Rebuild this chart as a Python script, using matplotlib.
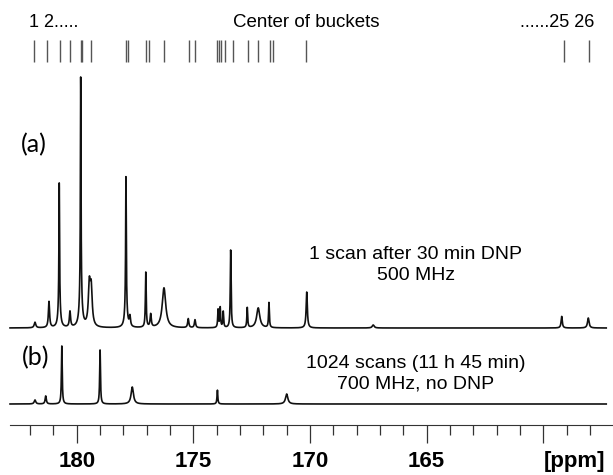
import numpy as np
import matplotlib
matplotlib.use("Agg")
import matplotlib.pyplot as plt

# bucket centres (ppm)
bucket_ppm = [181.82, 181.29, 180.72, 180.29, 179.83, 179.77, 179.39, 177.89, 177.80,
              177.03, 176.91, 176.25, 175.17, 174.94, 173.97, 173.89, 173.80, 173.64,
              173.29, 172.67, 172.24, 171.71, 171.60, 170.17, 159.11, 158.03]

# spectrum (a): 1 scan after 30 min DNP, 500 MHz -- peak position, height, half width
a_ppm = [181.79, 181.19, 180.75, 180.75, 180.29, 179.83, 179.83, 179.46, 179.38,
         177.89, 177.89, 177.72, 177.04, 176.83, 176.26, 175.22, 174.93, 173.94,
         173.85, 173.72, 173.40, 172.69, 172.22, 171.76, 170.14, 167.29, 159.21, 158.07]
a_height = [5.6, 26, 120, 25, 15.6, 215, 35, 40, 36,
            125, 28, 10, 55, 13, 40, 9, 8, 18,
            20, 16, 78, 20, 20, 25, 36, 3, 11.6, 10]
a_width = [0.04, 0.03, 0.015, 0.05, 0.03, 0.015, 0.06, 0.05, 0.05,
           0.015, 0.05, 0.03, 0.02, 0.03, 0.09, 0.03, 0.03, 0.02,
           0.02, 0.02, 0.02, 0.02, 0.08, 0.02, 0.03, 0.05, 0.03, 0.04]

# spectrum (b): 1024 scans, 700 MHz, no DNP
b_ppm = [181.79, 181.33, 180.64, 179.00, 177.62, 173.97, 171.00]
b_height = [4, 8, 58, 54, 17, 14, 10]
b_width = [0.04, 0.03, 0.02, 0.02, 0.06, 0.02, 0.06]

major_ticks = [180, 175, 170, 165, 160]
major_labels = ["180", "175", "170", "165", "[ppm]"]


def spectrum(x, pos, height, width):
    y = np.zeros_like(x)
    for p, h, w in zip(pos, height, width):
        y += h * w ** 2 / ((x - p) ** 2 + w ** 2)
    return y


plt.rcParams["font.family"] = ["Liberation Sans", "DejaVu Sans"]

fig = plt.figure(figsize=(6.13, 4.75), dpi=100)
ax = fig.add_axes([0, 50 / 475, 1, 425 / 475])
ax.set_xlim(183.29, 157.01)
ax.set_ylim(0, 425)

ppm = np.linspace(182.86, 157.3, 6000)
ax.plot(ppm, 97 + spectrum(ppm, a_ppm, a_height, a_width), color="#111111", lw=1.2)
ax.plot(ppm, 21 + spectrum(ppm, b_ppm, b_height, b_width), color="#111111", lw=1.2)

ax.vlines(bucket_ppm, 363.3, 385, color="#555555", lw=1.0)

# axis styling
for s in ["top", "left", "right"]:
    ax.spines[s].set_visible(False)
ax.spines["bottom"].set_bounds(182.86, 157.01)
ax.spines["bottom"].set_color("#333333")
ax.set_yticks([])
ax.set_xticks(major_ticks)
ax.set_xticklabels(major_labels, fontsize=16, fontweight="bold")
ax.get_xticklabels()[-1].set_horizontalalignment("left")
ax.set_xticks(range(158, 183), minor=True)
ax.tick_params(axis="x", which="major", length=13, width=0.9, direction="out", pad=6,
               color="#333333")
ax.tick_params(axis="x", which="minor", length=7.2, width=0.9, direction="out",
               color="#333333")

# annotations
ax.text(182.04, 402.5, "1 2.....", fontsize=13, ha="left", va="center")
ax.text(170.17, 402.5, "Center of buckets", fontsize=13.5, ha="center", va="center")
ax.text(157.79, 402.5, "......25 26", fontsize=13, ha="right", va="center")

ax.text(182.40, 280, "(a)", fontsize=18, family=["Lato", "DejaVu Sans"],
        ha="left", va="center")
ax.text(182.36, 67, "(b)", fontsize=18, family=["Lato", "DejaVu Sans"],
        ha="left", va="center")

ax.text(165.46, 160, "1 scan after 30 min DNP\n500 MHz", fontsize=14, ha="center",
        va="center", linespacing=1.25)
ax.text(165.46, 51.5, "1024 scans (11 h 45 min)\n700 MHz, no DNP", fontsize=14,
        ha="center", va="center", linespacing=1.25)

fig.savefig("out.png", dpi=100)
